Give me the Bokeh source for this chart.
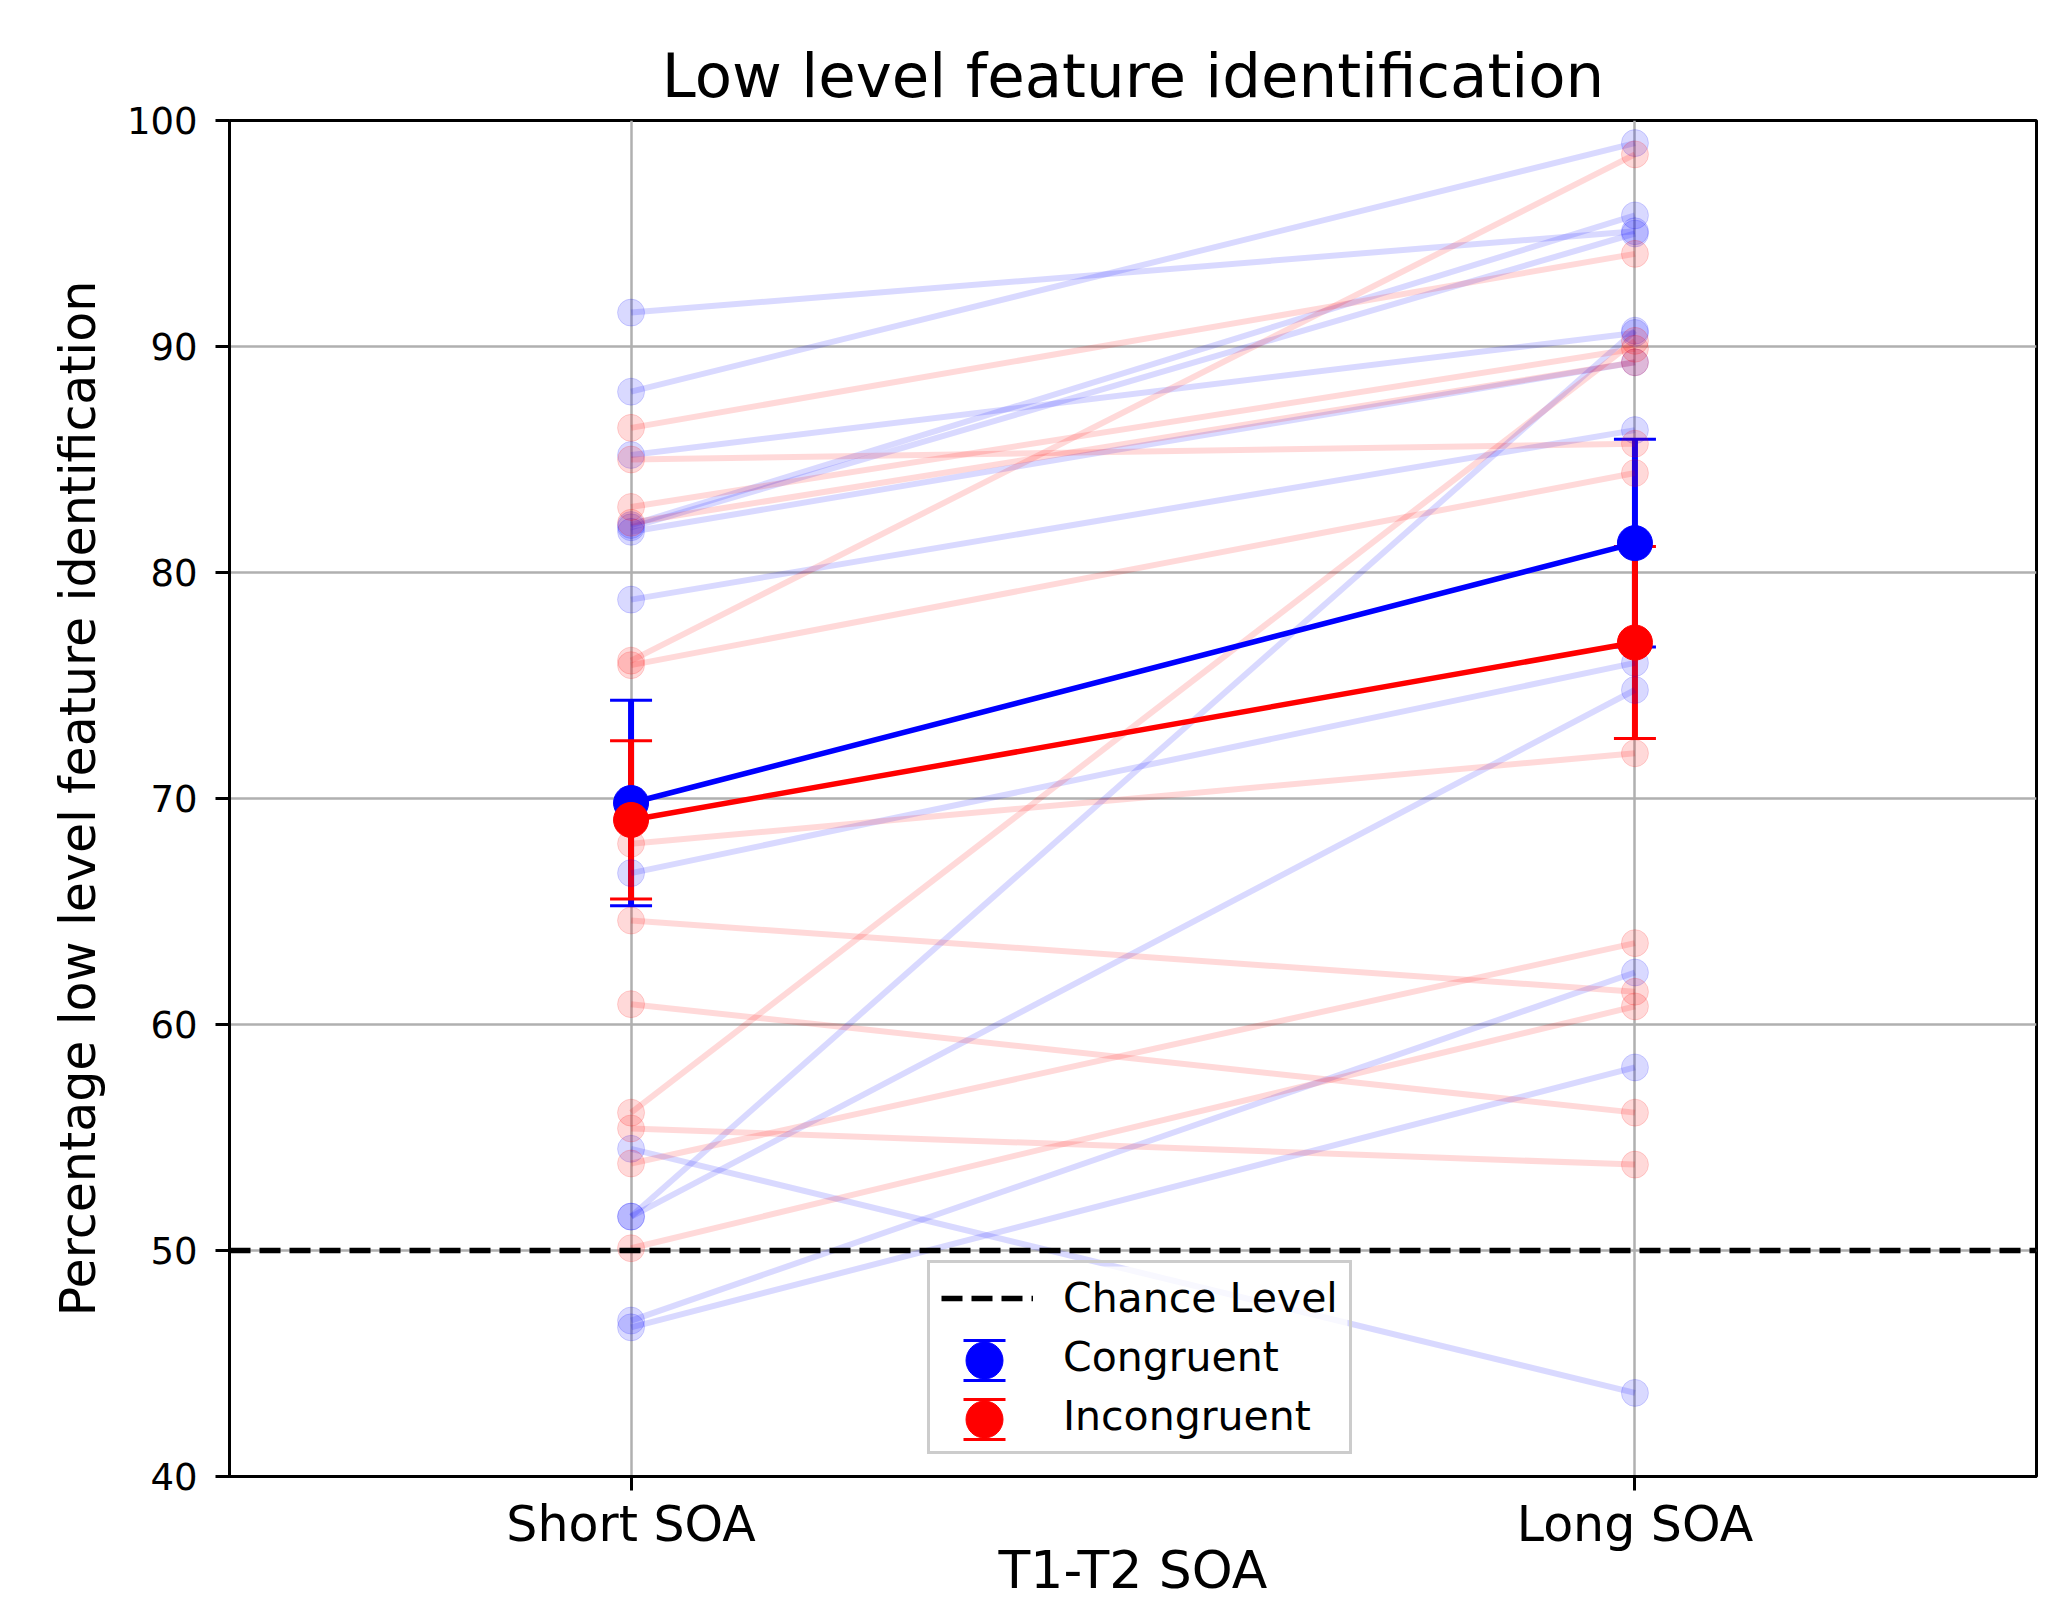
from bokeh.plotting import figure
from bokeh.models import (ColumnDataSource, FixedTicker, Legend, LegendItem, Range1d,
                          Whisker, TeeHead)
from bokeh.embed import file_html
from bokeh.resources import INLINE

# ---------------- data ----------------
conditions = ["Short SOA", "Long SOA"]
x_pos = [0, 1]
y_ticks = [40, 50, 60, 70, 80, 90, 100]
chance_level = 50

# per-participant values, congruent
cong_short = [91.5, 88.0, 85.2, 82.1, 82.0, 81.8, 78.8, 66.7, 54.5, 51.5, 51.5, 46.9, 46.6]
cong_long = [95.1, 99.0, 90.6, 95.8, 95.0, 89.3, 86.3, 76.0, 43.7, 90.7, 74.8, 62.3, 58.1]
# per-participant values, incongruent
inc_short = [86.4, 85.0, 82.9, 82.2, 76.1, 75.9, 68.0, 64.6, 60.9, 56.1, 55.4, 53.85, 50.1]
inc_long = [94.1, 85.7, 89.9, 89.3, 98.5, 84.4, 72.0, 61.45, 56.1, 90.25, 53.8, 63.6, 60.8]

# group means and standard errors
cong_mean = [69.8, 81.3]
cong_err = [4.55, 4.6]
inc_mean = [69.05, 76.9]
inc_err = [3.5, 4.25]

# ---------------- layout / style ----------------
FONT = "DejaVu Sans"
BLUE = "#0000ff"
RED = "#ff0000"

W, H = 2039, 1604
FRAME_L, FRAME_T, FRAME_B, FRAME_R = 229, 120, 1476, 2036
frame_w = FRAME_R - FRAME_L
frame_h = FRAME_B - FRAME_T
x_lo, x_hi = -0.4, 1.4
y_lo, y_hi = 40, 100


def px_x(px):  # pixels from the frame's left edge -> data x
    return x_lo + px / frame_w * (x_hi - x_lo)


def px_y(px):  # pixels from the frame's bottom edge -> data y
    return y_lo + px / frame_h * (y_hi - y_lo)


p = figure(width=W, height=H, output_backend="svg", toolbar_location=None,
           x_range=Range1d(x_lo, x_hi), y_range=Range1d(y_lo, y_hi),
           min_border_left=FRAME_L, min_border_right=W - FRAME_R,
           min_border_top=FRAME_T, min_border_bottom=H - FRAME_B,
           background_fill_color="white", border_fill_color="white")

# title
p.title.text = "Low level feature identification"
p.title.text_font = FONT
p.title.text_font_size = "61px"
p.title.text_font_style = "normal"
p.title.align = "center"
p.title.text_color = "black"
p.title.standoff = 20

# outline
p.outline_line_color = "black"
p.outline_line_width = 3
p.outline_line_alpha = 1

# axes
p.xaxis.ticker = FixedTicker(ticks=x_pos)
p.xaxis.major_label_overrides = {x: c for x, c in zip(x_pos, conditions)}
p.yaxis.ticker = FixedTicker(ticks=y_ticks)
p.xgrid.ticker = FixedTicker(ticks=x_pos)
p.ygrid.ticker = FixedTicker(ticks=y_ticks)

for ax in (p.xaxis[0], p.yaxis[0]):
    ax.axis_line_width = 3
    ax.axis_line_color = "black"
    ax.major_tick_out = 14
    ax.major_tick_in = 0
    ax.major_tick_line_width = 3
    ax.major_tick_line_color = "black"
    ax.minor_tick_out = 0
    ax.minor_tick_in = 0
    ax.major_label_text_font = FONT
    ax.major_label_text_color = "black"
    ax.axis_label_text_font = FONT
    ax.axis_label_text_font_style = "normal"
    ax.axis_label_text_color = "black"

p.xaxis.major_label_text_font_size = "49px"
p.yaxis.major_label_text_font_size = "37px"
p.xaxis.major_label_standoff = 5
p.yaxis.major_label_standoff = 18
p.xaxis.axis_label = "T1-T2 SOA"
p.xaxis.axis_label_text_font_size = "52px"
p.xaxis.axis_label_standoff = -16
p.yaxis.axis_label = "Percentage low level feature identification"
p.yaxis.axis_label_text_font_size = "49px"
p.yaxis.axis_label_standoff = 17

for g in (p.xgrid[0], p.ygrid[0]):
    g.grid_line_color = "#b0b0b0"
    g.grid_line_width = 2.5
    g.grid_line_alpha = 1

# ---------------- individual participants ----------------
n = len(cong_short)
xs_pairs = [list(x_pos) for _ in range(n)]
for short_vals, long_vals, col in ((cong_short, cong_long, BLUE), (inc_short, inc_long, RED)):
    src = ColumnDataSource(dict(xs=xs_pairs, ys=[[s, l] for s, l in zip(short_vals, long_vals)]))
    p.multi_line(xs="xs", ys="ys", source=src, line_color=col, line_alpha=0.15, line_width=6)
    pts = ColumnDataSource(dict(x=[x_pos[0]] * n + [x_pos[1]] * n, y=short_vals + long_vals))
    p.scatter(x="x", y="y", source=pts, size=27, fill_color=col, fill_alpha=0.15,
              line_color=col, line_alpha=0.15, line_width=1)

# chance level
chance_r = p.line(x=[x_lo, x_hi], y=[chance_level, chance_level], line_color="black",
                  line_width=5.5, line_dash="21 9")

# ---------------- error bars and means ----------------
mean_renderers = []
for means, errs, col in ((cong_mean, cong_err, BLUE), (inc_mean, inc_err, RED)):
    src = ColumnDataSource(dict(x=x_pos, mean=means,
                                upper=[m + e for m, e in zip(means, errs)],
                                lower=[m - e for m, e in zip(means, errs)]))
    w = Whisker(source=src, base="x", upper="upper", lower="lower",
                line_color=col, line_width=6,
                upper_head=TeeHead(size=42, line_color=col, line_width=3),
                lower_head=TeeHead(size=42, line_color=col, line_width=3))
    p.add_layout(w)
    p.line(x="x", y="mean", source=src, line_color=col, line_width=5.5)
    r = p.scatter(x="x", y="mean", source=src, size=35, fill_color=col, line_color=col)
    mean_renderers.append(r)

# ---------------- legend ----------------
LEG_X, LEG_Y = 698, 22            # offset of the legend box from the frame's bottom-left
PAD, GW, ROW, SP, STAND = 11, 92, 48, 11, 30
LABEL_W = 276                      # approx. width of the longest legend label
leg_h = 2 * PAD + 3 * ROW + 2 * SP
leg_w = 2 * PAD + GW + STAND + LABEL_W

# translucent legend background (drawn over the participant lines)
p.quad(left=px_x(LEG_X), right=px_x(LEG_X + leg_w), bottom=px_y(LEG_Y), top=px_y(LEG_Y + leg_h),
       fill_color="white", fill_alpha=0.8, line_color=None)

# error-bar style legend symbols (circle with caps)
for row, col in ((1, BLUE), (2, RED)):
    cy_px = LEG_Y + leg_h - PAD - ROW / 2 - row * (ROW + SP)
    cx = px_x(LEG_X + PAD + GW / 2)
    src = ColumnDataSource(dict(x=[cx, cx], y=[px_y(cy_px + 20), px_y(cy_px - 20)]))
    p.segment(x0=cx, y0=px_y(cy_px + 20), x1=cx, y1=px_y(cy_px - 20),
              line_color=col, line_width=6)
    p.scatter(x="x", y="y", source=src, marker="dash", size=42, line_color=col, line_width=3)
    p.scatter(x=[cx], y=[px_y(cy_px)], size=37, fill_color=col, line_color=col)

legend = Legend(items=[LegendItem(label="Chance Level", renderers=[chance_r]),
                       LegendItem(label="Congruent", renderers=[mean_renderers[0]]),
                       LegendItem(label="Incongruent", renderers=[mean_renderers[1]])],
                location=(LEG_X, LEG_Y), margin=0, padding=PAD, spacing=SP,
                glyph_width=GW, glyph_height=ROW, label_height=ROW, label_standoff=STAND,
                label_text_font=FONT, label_text_font_size="41px",
                label_text_color="black",
                border_line_color="#cccccc", border_line_width=3, border_line_alpha=1,
                background_fill_color="white", background_fill_alpha=0)
p.add_layout(legend)

open("out.html", "w").write(file_html(p, INLINE))
